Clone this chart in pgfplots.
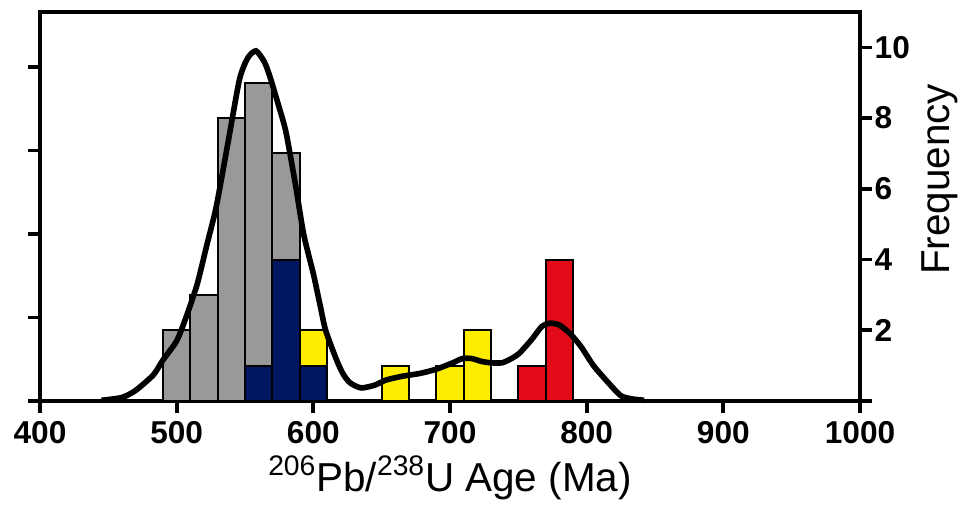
\documentclass[border=0pt]{standalone}
\usepackage{fontspec}
\setmainfont{Liberation Sans}
\usepackage{pgfplots}
\pgfplotsset{compat=1.18}
\usetikzlibrary{calc}

\definecolor{bargray}{RGB}{153,153,153}
\definecolor{barnavy}{RGB}{0,22,96}
\definecolor{baryellow}{RGB}{255,237,0}
\definecolor{barred}{RGB}{226,10,22}

\pgfplotsset{
  histbar/.style={ybar, bar width=20, bar shift=0pt, draw=black, line width=1.1pt},
}

\begin{document}
\begin{tikzpicture}
% left axis: unlabelled density ticks only
\begin{axis}[
  scale only axis, width=16.4cm, height=7.78cm,
  xmin=400, xmax=1000, ymin=0, ymax=11,
  axis x line=none, axis y line*=left,
  y axis line style={-, line width=2.1pt},
  ytick={0,2.36,4.72,7.08,9.44}, yticklabels={},
  tick align=outside, major tick length=2.4mm,
  tick style={line width=2.1pt, black},
]
\end{axis}

\begin{axis}[
  scale only axis, width=16.4cm, height=7.78cm,
  xmin=400, xmax=1000, ymin=0, ymax=11,
  axis line style={line width=2.1pt},
  xtick={400,500,...,1000},
  ytick={0,2,4,...,10},
  yticklabels={,2,4,6,8,10},
  xtick pos=bottom, ytick pos=right, yticklabel pos=right,
  tick align=outside, major tick length=2.4mm,
  tick style={line width=2.1pt, black},
  ticklabel style={font=\fontsize{18}{18}\selectfont\bfseries},
  /pgf/number format/assume math mode=true,
  /pgf/number format/1000 sep={},
  xticklabel style={yshift=-1pt},
  yticklabel style={xshift=-2pt},
  label style={font=\fontsize{23}{24}\selectfont},
  xlabel={\textsuperscript{206}Pb/\textsuperscript{238}U Age (Ma)},
  ylabel={Frequency},
  ylabel style={at={(ticklabel cs:0.57)}},
  clip=false,
]
  %% gray: all grains (totals)
  \addplot[histbar, fill=bargray] coordinates {
    (500,2) (520,3) (540,8) (560,9) (580,7)
  };
  %% yellow on 600 sits above navy
  \addplot[histbar, fill=baryellow] coordinates {
    (600,2) (660,1) (700,1) (720,2)
  };
  %% navy
  \addplot[histbar, fill=barnavy] coordinates {
    (560,1) (580,4) (600,1)
  };
  %% red
  \addplot[histbar, fill=barred] coordinates {
    (760,1) (780,4)
  };

  %% probability density curve
  \addplot[black, line width=3.2pt, smooth, tension=0.4] coordinates {
    (445,0.02) (460,0.1) (470,0.3) (483,0.74) (490,1.16) (500,1.7)
    (507,2.38) (515,3.3) (522,4.4) (529,5.5) (538,7.4) (546,9.1)
    (552,9.7) (558,9.9) (564,9.6) (568,9.2) (575,8.3) (580,7.6)
    (587,6.1) (593,4.7) (600,3.6) (605,2.7) (609,2.0) (617,1.16)
    (622,0.75) (627,0.51) (635,0.37) (645,0.45) (653,0.59) (665,0.7)
    (678,0.78) (690,0.9) (702,1.08) (709,1.2) (716,1.2) (723,1.12)
    (730,1.08) (738,1.08) (745,1.2) (751,1.36) (760,1.75) (767,2.1)
    (773,2.2) (780,2.15) (788,1.9) (796,1.53) (805,1.0) (816,0.51)
    (825,0.15) (833,0.06) (842,0.02)
  };

  \coordinate (ll) at (rel axis cs:0,0);
  \coordinate (ur) at (rel axis cs:1,1);
\end{axis}
\pgfresetboundingbox
\path ($(ll)+(-8mm,-20.6mm)$) rectangle ($(ur)+(22.8mm,2.4mm)$);
\end{tikzpicture}
\end{document}
